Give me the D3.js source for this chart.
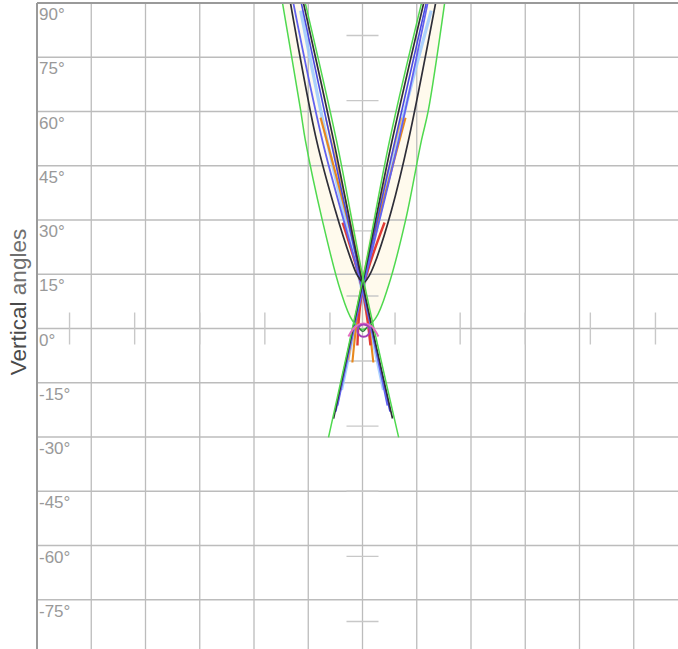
<!DOCTYPE html>
<html>
<head>
<meta charset="utf-8">
<script src="https://cdn.jsdelivr.net/npm/d3@7.9.0/dist/d3.min.js"></script>
<style>
  html, body { margin: 0; padding: 0; background: #fff; }
  svg { display: block; font-family: "Liberation Sans", Arial, sans-serif; }
</style>
</head>
<body>
<div id="chart"></div>
<script>
// grid + tick values (degrees)
const gridAngles = d3.range(-90, 91, 15);
const yLabelAngles = [90, 75, 60, 45, 30, 15, 0, -15, -30, -45, -60, -75];
const minorTicks = [-81, -63, -45, -27, -9, 9, 27, 45, 63, 81];

// curves as [horizontal°, vertical°]
const greenOuter = [[-22.1, 89.9], [-17.1, 60.3], [-15.8, 52.0], [-11.1, 29.9], [-6.1, 10.5], [-2.8, 2.2],
  [0, -0.3], [3.6, 2.8], [7.2, 11.9], [11.9, 29.9], [16.3, 52.0], [18.2, 60.3], [22.7, 89.9]];
const greenDown = [[-15.8, 89.9], [-7.2, 52.0], [0.3, 13.3], [10.0, -30.1]];
const greenUp = [[16.3, 89.9], [7.5, 52.0], [0, 13.3], [-9.4, -30.1]];

const blackU = [[-19.9, 89.9], [-12.7, 52.0], [-7.5, 32.6], [-3.3, 19.4], [-1.4, 14.7], [0.3, 12.7],
  [1.9, 14.7], [3.9, 19.4], [8.0, 32.6], [12.7, 52.0], [20.2, 89.9]];
const blackDown = [[-16.3, 89.9], [-8.0, 52.0], [0, 12.4], [8.3, -24.9]];
const blackUp = [[16.9, 89.9], [8.2, 52.0], [0, 12.4], [-8.0, -24.9]];

const blueDown = [[-19.1, 89.9], [-11.1, 52.0], [0, 10.5], [6.9, -21.3]];
const blueUp = [[18.0, 89.9], [10.0, 52.0], [0, 10.5], [-6.9, -21.3]];
const navyDown = [[-16.9, 89.9], [-8.8, 52.0], [0, 11.6], [7.6, -23.0]];
const navyUp = [[17.6, 89.9], [9.0, 52.0], [0, 11.6], [-7.4, -23.0]];

const lightBlueDown = [[-17.1, 87.9], [-9.8, 52.0], [0, 10.0], [5.8, -17.0]];
const lightBlueUp = [[19.0, 87.9], [9.6, 52.0], [0, 10.0], [-5.8, -17.0]];

const orangeDown = [[-11.6, 58.3], [-5.5, 35.4], [0, 12.7], [3.0, -9.4]];
const orangeUp = [[11.9, 58.3], [5.8, 35.4], [0, 12.7], [-2.8, -9.4]];
const orange2Down = [[-10.2, 58.3], [-4.7, 35.4], [0, 13.3], [4.4, -8.8]];
const orange2Up = [[10.8, 58.3], [5.0, 35.4], [0, 13.3], [-3.9, -8.8]];

const redDown = [[-5.5, 29.3], [0, 10.5], [2.2, -4.7]];
const redUp = [[6.1, 29.3], [0, 10.5], [-1.4, -4.7]];

const pinkArc = [[-3.9, -2.2], [-1.9, 0.6], [0.3, 1.4], [2.5, 0.6], [4.4, -2.2]];
const smallU = [[-1.1, 0.3], [0.1, -0.8], [1.2, 0.3]];
const ringCenter = [0.3, -0.6];
const ringRadius = 1.7;

const width = 678, height = 649;
const x = d3.scaleLinear().domain([-90, 90]).range([37, 688]);
const y = d3.scaleLinear().domain([90, -90]).range([3, 654]);

const svg = d3.select('#chart').append('svg')
  .attr('width', width)
  .attr('height', height);

svg.append('clipPath').attr('id', 'plot-clip')
  .append('rect').attr('x', 37).attr('y', 3).attr('width', width - 37).attr('height', height - 3);

const line = d3.line().x(d => x(d[0])).y(d => y(d[1])).curve(d3.curveCatmullRom);

// cream band between the outer U and the upper part of the X
const upperCross = greenUp.slice(0, 3).concat(greenDown.slice(0, 3).reverse());
svg.append('path')
  .attr('clip-path', 'url(#plot-clip)')
  .attr('d', line(greenOuter) + line(upperCross).replace(/^M/, 'L') + 'Z')
  .attr('fill', '#fff6dc')
  .attr('fill-opacity', 0.5);

// grid
const grid = svg.append('g').attr('stroke', '#bcbcbc').attr('stroke-width', 1.3);
grid.selectAll('.v').data(gridAngles).join('line')
  .attr('x1', d => x(d)).attr('x2', d => x(d))
  .attr('y1', y(90)).attr('y2', height);
grid.selectAll('.h').data(gridAngles).join('line')
  .attr('y1', d => y(d)).attr('y2', d => y(d))
  .attr('x1', x(-90)).attr('x2', width);

// small cross ticks along the 0° lines
const ticks = svg.append('g').attr('stroke', '#c8c8c8').attr('stroke-width', 1.4);
ticks.selectAll('.tx').data(minorTicks).join('line')
  .attr('x1', d => x(d)).attr('x2', d => x(d))
  .attr('y1', y(0) - 16).attr('y2', y(0) + 16);
ticks.selectAll('.ty').data(minorTicks).join('line')
  .attr('y1', d => y(d)).attr('y2', d => y(d))
  .attr('x1', x(0) - 16).attr('x2', x(0) + 16);

// curves
const curves = [
  { data: lightBlueDown, color: '#9cc9ff', w: 3.2, op: 0.85 },
  { data: lightBlueUp, color: '#9cc9ff', w: 3.2, op: 0.85 },
  { data: orange2Down, color: '#f3b45c', w: 1.7, op: 1 },
  { data: orange2Up, color: '#f3b45c', w: 1.7, op: 1 },
  { data: orangeDown, color: '#e8891e', w: 2.1, op: 1 },
  { data: orangeUp, color: '#e8891e', w: 2.1, op: 1 },
  { data: redDown, color: '#e23b35', w: 2.4, op: 1 },
  { data: redUp, color: '#e23b35', w: 2.4, op: 1 },
  { data: navyDown, color: '#4848e0', w: 1.6, op: 1 },
  { data: navyUp, color: '#4848e0', w: 1.6, op: 1 },
  { data: blueDown, color: '#6262f0', w: 1.8, op: 1 },
  { data: blueUp, color: '#6262f0', w: 1.8, op: 1 },
  { data: blackU, color: '#2e2e38', w: 1.7, op: 1 },
  { data: blackDown, color: '#2e2e38', w: 1.7, op: 1 },
  { data: blackUp, color: '#2e2e38', w: 1.7, op: 1 },
  { data: greenOuter, color: '#4fd94f', w: 1.5, op: 1 },
  { data: greenDown, color: '#4fd94f', w: 1.5, op: 1 },
  { data: greenUp, color: '#4fd94f', w: 1.5, op: 1 },
  { data: smallU, color: '#2f7a3a', w: 1.4, op: 1 },
  { data: pinkArc, color: '#e46fc4', w: 2, op: 1 },
];

svg.append('g').attr('clip-path', 'url(#plot-clip)')
  .selectAll('path').data(curves).join('path')
  .attr('d', d => line(d.data))
  .attr('fill', 'none')
  .attr('stroke', d => d.color)
  .attr('stroke-width', d => d.w)
  .attr('stroke-opacity', d => d.op);

svg.append('circle')
  .attr('cx', x(ringCenter[0])).attr('cy', y(ringCenter[1]))
  .attr('r', x(ringRadius) - x(0))
  .attr('fill', 'none').attr('stroke', '#a43fb8').attr('stroke-width', 2);

// frame: top and left edges
svg.append('line').attr('x1', x(-90)).attr('x2', width).attr('y1', y(90)).attr('y2', y(90))
  .attr('stroke', '#9a9a9a').attr('stroke-width', 2);
svg.append('line').attr('x1', x(-90)).attr('x2', x(-90)).attr('y1', y(90)).attr('y2', height)
  .attr('stroke', '#9a9a9a').attr('stroke-width', 2);

// vertical axis labels
svg.append('g').selectAll('text').data(yLabelAngles).join('text')
  .attr('x', x(-90) + 2)
  .attr('y', d => y(d) + 17)
  .attr('fill', '#999')
  .attr('font-size', 17)
  .text(d => `${d}°`);

const title = svg.append('text')
  .attr('transform', 'translate(26, 302) rotate(-90)')
  .attr('text-anchor', 'middle')
  .attr('font-size', 22.5);
title.append('tspan').attr('fill', '#4a4a4a').text('Vertical');
title.append('tspan').attr('fill', '#707070').text(' angles');
</script>
</body>
</html>
